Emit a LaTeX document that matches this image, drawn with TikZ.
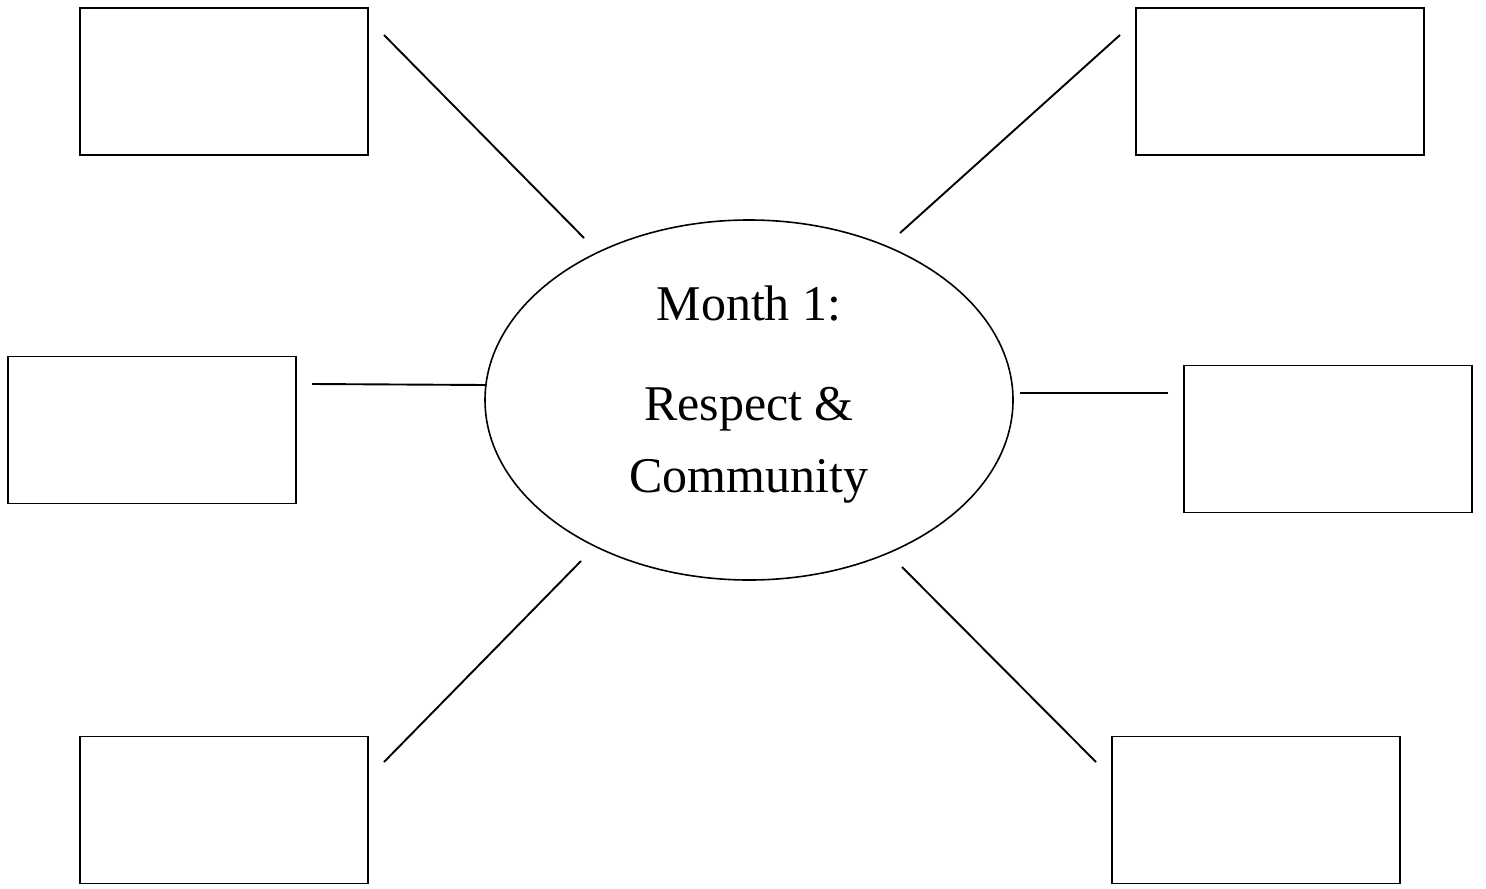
\documentclass[tikz,border=0pt]{standalone}
\usepackage{fontspec}
\setmainfont{Liberation Serif}
\usetikzlibrary{shapes.geometric}

\begin{document}
\begin{tikzpicture}[x=0.5pt,y=-0.5pt,
  blank/.style={draw=black,line width=0.9pt,rectangle,inner sep=0pt,minimum width=144pt,minimum height=73.5pt},
  hub/.style={draw=black,line width=0.8pt,ellipse,inner sep=0pt,minimum width=264pt,minimum height=180pt},
  hubtext/.style={align=center,inner sep=0pt,font=\fontsize{25}{36}\selectfont},
  spoke/.style={line width=0.95pt}]
\useasboundingbox (0,0) rectangle (1486,888);
% centre
\node (M) [hub] at (749,400) {};
\node (T) [hubtext] at (749,395) {Month 1:\\[14pt]Respect \&\\Community};
% empty boxes
\node (TL) [blank] at (224,81.5) {};
\node (TR) [blank] at (1280,81.5) {};
\node (L) [blank] at (152,430) {};
\node (R) [blank] at (1328,439) {};
\node (BL) [blank] at (224,810) {};
\node (BR) [blank] at (1256,810) {};
% spoke ends
\coordinate (TLa) at (384,35);   \coordinate (TLb) at (584,238);
\coordinate (TRa) at (1120,35);  \coordinate (TRb) at (900,233);
\coordinate (La) at (312,384);   \coordinate (Lb) at (486,385);
\coordinate (Ra) at (1168,393);  \coordinate (Rb) at (1020,393);
\coordinate (BLa) at (384,762);  \coordinate (BLb) at (581,561);
\coordinate (BRa) at (1096,762); \coordinate (BRb) at (902,567);
\draw[spoke] (TLa)--(TLb);
\draw[spoke] (TRa)--(TRb);
\draw[spoke] (La)--(Lb);
\draw[spoke] (Ra)--(Rb);
\draw[spoke] (BLa)--(BLb);
\draw[spoke] (BRa)--(BRb);
\end{tikzpicture}
\end{document}
